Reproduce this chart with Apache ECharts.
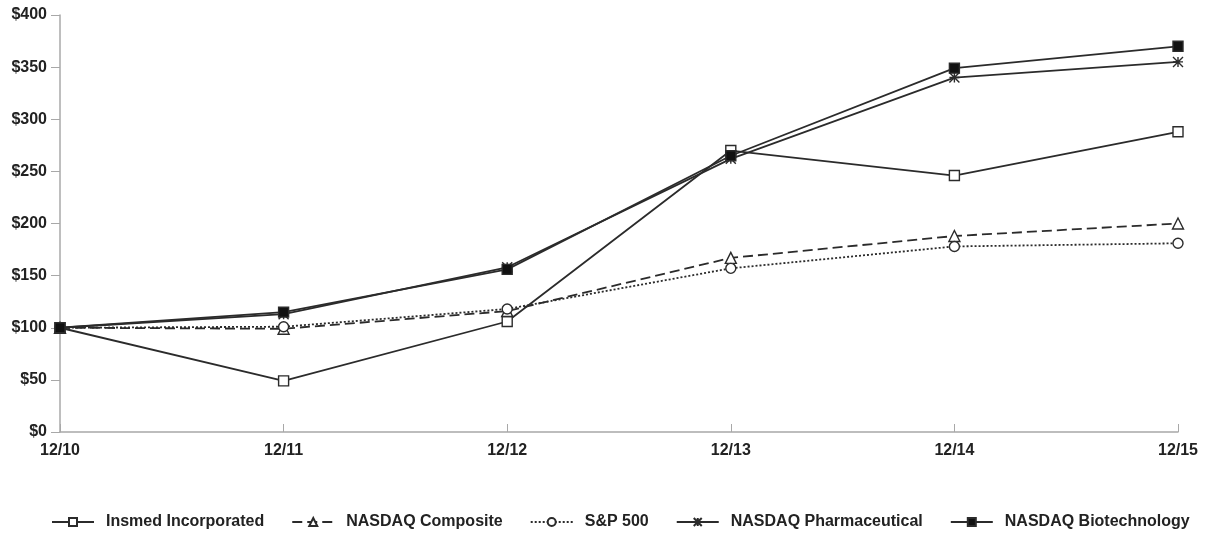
<!DOCTYPE html>
<html>
<head>
<meta charset="utf-8">
<script src="https://cdn.jsdelivr.net/npm/echarts@6/dist/echarts.min.js"></script>
<style>
  html, body { margin: 0; padding: 0; background: #fff; }
  #main { width: 1205px; height: 539px; }
</style>
</head>
<body>
<div id="main"></div>
<script>
var years = ['12/10', '12/11', '12/12', '12/13', '12/14', '12/15'];
var insmed = [100, 49, 106, 270, 246, 288];
var composite = [100, 99, 116, 167, 188, 200];
var sp500 = [100, 101, 118, 157, 178, 181];
var pharma = [100, 113, 158, 262, 340, 355];
var biotech = [100, 115, 156, 265, 349, 370];

var myChart = echarts.init(document.getElementById('main'));

// asterisk marker for the pharma series
var star = 'path://M0,0 L10,10 M10,0 L0,10 M5,0 L5,10 M0,5 L10,5';
var font = 'Liberation Sans';

function line(name, data, symbol, type, filled) {
  return {
    name: name,
    type: 'line',
    data: data,
    symbol: symbol,
    symbolSize: symbol === 'triangle' ? 11 : 10,
    showAllSymbol: true,
    lineStyle: { color: '#2b2b2b', width: 1.8, type: type },
    itemStyle: {
      color: filled ? '#111' : '#fff',
      borderColor: '#2b2b2b',
      borderWidth: 1.4
    },
    z: filled ? 5 : 3
  };
}

var option = {
  animation: false,
  grid: { left: 60, right: 27, top: 15, bottom: 107 },
  legend: {
    bottom: 4,
    left: 46,
    itemGap: 27,
    itemWidth: 42,
    itemHeight: 10,
    textStyle: { fontFamily: font, fontWeight: 'bold', fontSize: 16, color: '#222', padding: [0, 0, 0, 7] },
    data: ['Insmed Incorporated', 'NASDAQ Composite', 'S&P 500', 'NASDAQ Pharmaceutical', 'NASDAQ Biotechnology']
  },
  xAxis: {
    type: 'category',
    data: years,
    boundaryGap: false,
    axisLine: { lineStyle: { color: '#a8a8a8', width: 1.5 } },
    axisTick: { inside: true, length: 8, lineStyle: { color: '#a8a8a8' } },
    axisLabel: { fontFamily: font, fontWeight: 'bold', fontSize: 16, color: '#222', margin: 11 }
  },
  yAxis: {
    type: 'value',
    min: 0,
    max: 400,
    interval: 50,
    splitLine: { show: false },
    axisLine: { show: true, lineStyle: { color: '#a8a8a8', width: 1.5 } },
    axisTick: { show: true, length: 9, lineStyle: { color: '#a8a8a8' } },
    axisLabel: {
      fontFamily: font, fontWeight: 'bold', fontSize: 16, color: '#222', margin: 13,
      formatter: function (v) { return '$' + v; }
    }
  },
  series: [
    line('Insmed Incorporated', insmed, 'rect', 'solid', false),
    line('NASDAQ Composite', composite, 'triangle', [10, 5], false),
    line('S&P 500', sp500, 'circle', [2, 2], false),
    line('NASDAQ Pharmaceutical', pharma, star, 'solid', false),
    line('NASDAQ Biotechnology', biotech, 'rect', 'solid', true)
  ]
};

myChart.setOption(option);
</script>
</body>
</html>
